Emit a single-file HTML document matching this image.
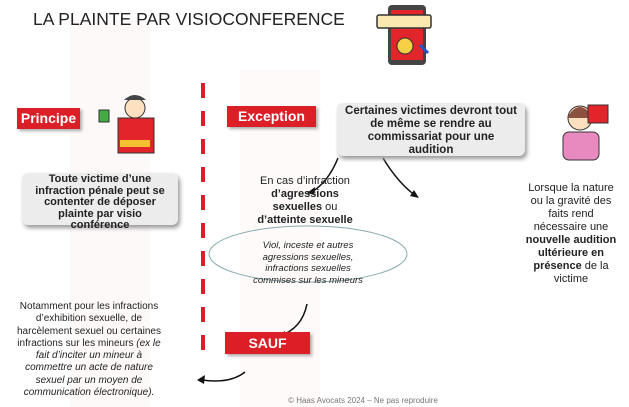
<!DOCTYPE html>
<html><head><meta charset="utf-8"><style>
body{margin:0;width:629px;height:407px;overflow:hidden;background:#fff;font-family:"Liberation Sans",sans-serif;position:relative}
.a{position:absolute}
.red{background:#dc1f26;color:#fff;font-weight:bold;font-size:14px;text-align:center;box-shadow:2px 2px 3px #aaa}
.grey{background:#ececec;border-radius:6px;box-shadow:2px 3px 4px #999;font-weight:bold;font-size:11.5px;text-align:center;line-height:13px;color:#222;white-space:nowrap}
.t{font-size:10.5px;text-align:center;line-height:13px;color:#222;white-space:nowrap}
</style></head><body>
<div class="a" style="left:70px;top:20px;width:80px;height:387px;background:#fef9f9"></div>
<div class="a" style="left:240px;top:70px;width:80px;height:337px;background:#fefafa"></div>
<div class="a" style="left:33px;top:9px;font-size:17.5px;color:#222">LA PLAINTE PAR VISIOCONFERENCE</div>
<svg class="a" style="left:0;top:0" width="629" height="407">
<rect x="388" y="5" width="38" height="60" rx="4" fill="#444"/><rect x="391" y="10" width="32" height="50" fill="#e2242b"/>
<rect x="377" y="15" width="54" height="13" rx="2" fill="#fbe8b0" stroke="#333" stroke-width="1.5"/>
<circle cx="405" cy="46" r="8" fill="#f7d046" stroke="#333"/>
<path d="M420 45 l8 8" stroke="#2255cc" stroke-width="3"/>
<line x1="203" y1="83" x2="203" y2="360" stroke="#dc1f26" stroke-width="4" stroke-dasharray="15 13"/>
<rect x="118" y="118" width="36" height="35" fill="#e2242b" stroke="#333"/><circle cx="135" cy="108" r="10" fill="#fde0c0" stroke="#333"/>
<path d="M124 100 q11 -10 22 0" fill="#444"/><rect x="99" y="110" width="10" height="12" fill="#4a4" stroke="#333"/>
<rect x="120" y="140" width="30" height="7" fill="#f4c030"/>
<rect x="563" y="132" width="36" height="28" rx="6" fill="#e88ac0" stroke="#333"/><circle cx="580" cy="118" r="12" fill="#fde0c0" stroke="#333"/>
<path d="M567 118 q13 -22 26 0" fill="#8a5040"/><rect x="588" y="105" width="20" height="18" fill="#e2242b" stroke="#333"/>
<ellipse cx="308" cy="254" rx="99" ry="28" fill="none" stroke="#8aa" stroke-width="1"/>
<g fill="none" stroke="#111" stroke-width="1.5">
<path d="M338 158 q-10 25 -28 35"/><path d="M383 158 q15 25 33 38"/><path d="M307 304 q-5 25 -28 32"/><path d="M245 372 q-15 12 -43 8"/>
</g>
<g fill="#111"><path d="M307 193 l8 -6 l-1 8z"/><path d="M419 198 l-9 -2 l4 -6z"/><path d="M277 336 l8 -5 l0 8z"/><path d="M197 380 l8 -5 l-1 9z"/></g>
</svg>
<div class="a red" style="left:17px;top:108px;width:63px;height:21px;line-height:21px">Principe</div>
<div class="a red" style="left:227px;top:106px;width:89px;height:21px;line-height:21px">Exception</div>
<div class="a red" style="left:225px;top:332px;width:85px;height:22px;line-height:22px">SAUF</div>
<div class="a grey" style="left:337px;top:103px;width:188px;height:53px;padding-top:2px;box-sizing:border-box">Certaines victimes devront tout<br>de même se rendre au<br>commissariat pour une<br>audition</div>
<div class="a grey" style="left:22px;top:173px;width:156px;height:52px;padding-top:1px;box-sizing:border-box;font-size:11px;line-height:11.6px">Toute victime d’une<br>infraction pénale peut se<br>contenter de déposer<br>plainte par visio<br>conférence</div>
<div class="a t" style="left:235px;top:175px;width:140px;font-size:11px">En cas d’infraction<br><b>d’agressions<br>sexuelles</b> ou<br><b>d’atteinte sexuelle</b></div>
<div class="a t" style="left:210px;top:240px;width:196px;font-style:italic;font-size:9.5px;line-height:11.5px">Viol, inceste et autres<br>agressions sexuelles,<br>infractions sexuelles<br>commises sur les mineurs</div>
<div class="a t" style="left:515px;top:182px;width:112px;font-size:11px">Lorsque la nature<br>ou la gravité des<br>faits rend<br>nécessaire une<br><b>nouvelle audition<br>ultérieure en<br>présence</b> de la<br>victime</div>
<div class="a t" style="left:3px;top:301px;width:172px;font-size:10px;line-height:12.3px">Notamment pour les infractions<br>d’exhibition sexuelle, de<br>harcèlement sexuel ou certaines<br>infractions sur les mineurs <i>(ex le<br>fait d’inciter un mineur à<br>commettre un acte de nature<br>sexuel par un moyen de<br>communication électronique).</i></div>
<div class="a" style="left:230px;top:396px;width:266px;text-align:center;font-size:8px;color:#777">© Haas Avocats 2024 – Ne pas reproduire</div>
</body></html>
